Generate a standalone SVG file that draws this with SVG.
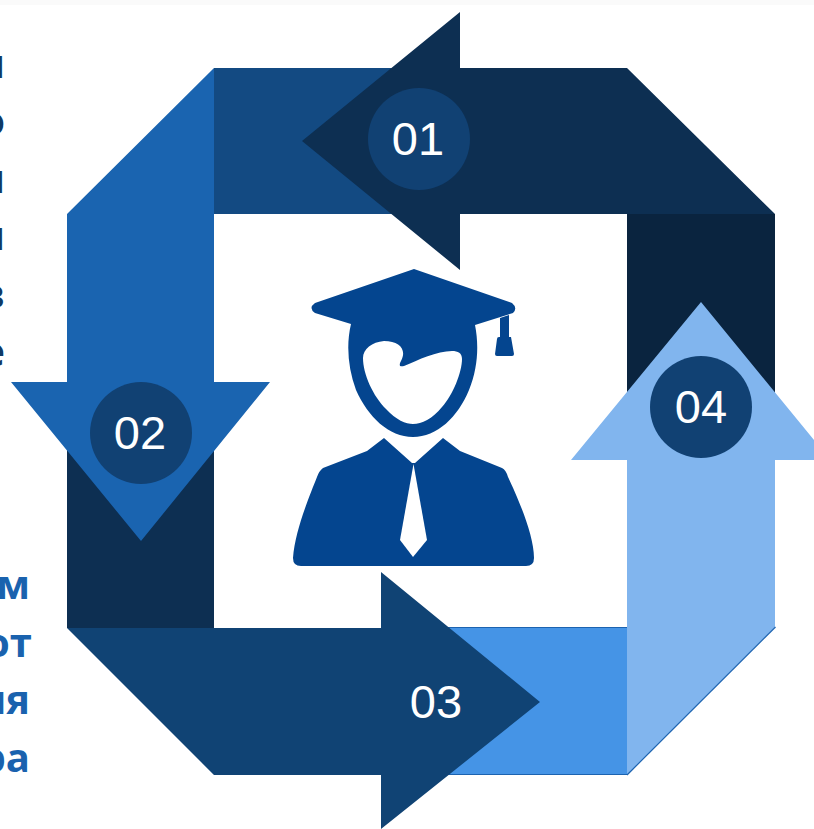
<svg xmlns="http://www.w3.org/2000/svg" width="814" height="829" viewBox="0 0 814 829">
<style>
.l{font-family:"Open Sans","Noto Sans",sans-serif;font-weight:700;font-size:40px;text-anchor:end}
.d{fill:#0d2f52}.b{fill:#114173}
.n{font-family:"Liberation Sans",Arial,sans-serif;font-size:47px;fill:#fff;text-anchor:middle}
.e{fill:none;stroke:#1c63b0;stroke-width:1.2}
</style>
<rect width="814" height="829" fill="#fff"/>
<rect width="814" height="5" fill="#fafafa"/>
<g id="left-text" class="l" fill="#0f3a66">
<text x="5" y="78">н</text><text x="5" y="135">о</text><text x="5" y="193">н</text><text x="5" y="250">н</text><text x="5" y="308">в</text><text x="5" y="366">е</text>
</g>
<g id="lower-text" class="l" fill="#1a62ae">
<text x="30" y="599">м</text><text x="32" y="657">от</text><text x="30" y="714">ия</text><text x="30" y="772">ра</text>
</g>
<g id="connectors">
<polygon id="band-04" fill="#0a243f" points="627,214 775,214 775,460 627,460"/>
<polygon id="band-02" class="d" points="67,440 214,440 214,628 67,628"/>
<polygon id="band-03" fill="#4594e6" points="440,627 627,627 627,775 440,775"/>
<polygon id="band-01" fill="#134a82" points="214,68 400,68 400,214 214,214"/>
<path class="e" d="M440,627.5H627M440,774.5H627"/>
</g>
<g id="node-01">
<polygon class="d" points="302,141 460,12 460,68 627,68 775,214 460,214 460,270"/>
<circle class="b" cx="419" cy="139" r="51"/>
<text class="n" x="418" y="155">01</text>
</g>
<g id="node-02">
<polygon fill="#1a64b0" points="214,68 214,382 270,382 141,541 11,382 67,382 67,214"/>
<circle class="b" cx="141" cy="433" r="51"/>
<text class="n" x="140" y="449">02</text>
</g>
<g id="node-03">
<polygon fill="#104374" points="67,628 381,628 381,572 540,702 381,829 381,775 214,775"/>
<text class="n" x="436" y="718">03</text>
</g>
<g id="node-04">
<polygon fill="#81b5ee" points="627,775 627,460 571,460 701,302 814,440 814,460 775,460 775,627"/>
<path class="e" d="M627,775L775.5,627"/>
<circle class="b" cx="701" cy="407" r="51"/>
<text class="n" x="701" y="423">04</text>
</g>
<g id="graduate" fill="#04458f">
<path fill-rule="evenodd" d="M414,269 L512,303 Q518,308 513,313 L475,325 C479,345 478,368 469,390 C458,417 437,437 413,437 C389,437 368,417 356,390 C348,368 346,345 351,324 L315,313 Q308,308 315,303 Z M384,341 C372,342 363,349 363,358 C363,374 373,396 386,409 C396,420 406,424 413,424 C422,424 432,419 442,407 C453,395 462,372 462,359 C462,353 458,351 452,351 C437,351 418,360 404,366 C399,367 399,365 401,361 C407,350 400,341 384,341 Z"/>
<path d="M500,318 L509,315 L509,337 L511,337 L514,354 Q514,356 512,356 L497,356 Q495,356 495,354 L497,339 Q497,337 499,337 L500,337 Z"/>
<path d="M384,438 L412,463 L415,463 L443,438 L460,451 L502,468 Q506,470 508,477 C518,498 534,535 534,558 Q534,566 526,566 L301,566 Q293,566 293,558 C295,530 310,495 317,477 Q319,471 323,468 L367,451 Z"/>
<polygon fill="#fff" points="413.5,464 400,540 413,557 427,540"/>
</g>
</svg>
